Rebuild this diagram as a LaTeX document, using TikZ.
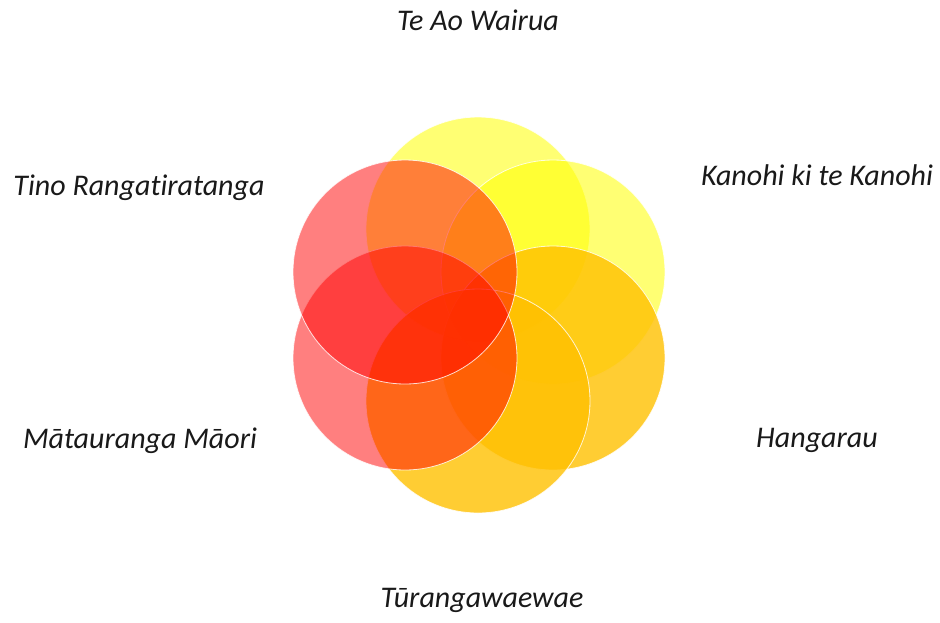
\documentclass[tikz,border=0pt]{standalone}
\usepackage{fontspec}
\setmainfont{Carlito}[Ligatures=NoCommon]
\begin{document}
\begin{tikzpicture}[x=1pt,y=-1pt,
  petal/.style={circle, inner sep=0pt, minimum size=224pt, draw=white, line width=0.8pt, draw opacity=0.8},
  lbl/.style={anchor=base, font=\fontsize{30}{36}\selectfont\itshape, text=black!90}]
\useasboundingbox (0,0) rectangle (940,622);
\definecolor{ylw}{HTML}{FFFF00}
\definecolor{gold}{HTML}{FFC000}
\definecolor{rd}{HTML}{FF0000}
% centres on a hexagon around (478,315)
\node[petal, fill=ylw, fill opacity=0.55] (top) at (478,229) {};
\node[petal, fill=ylw, fill opacity=0.55] (ur) at (553,272) {};
\node[petal, fill=gold, fill opacity=0.8] (lr) at (553,358) {};
\node[petal, fill=gold, fill opacity=0.8] (bot) at (478,401) {};
\node[petal, fill=rd, fill opacity=0.5] (ll) at (405,358) {};
\node[petal, fill=rd, fill opacity=0.5] (ul) at (405,272) {};
% labels
\node[lbl] (tTop) at (478,30) {Te Ao Wairua};
\node[lbl] (tUL) at (139,195) {Tino Rangatiratanga};
\node[lbl] (tUR) at (817,185) {Kanohi ki te Kanohi};
\node[lbl] (tLL) at (140,448) {Mātauranga Māori};
\node[lbl] (tLR) at (817,447) {Hangarau};
\node[lbl] (tBot) at (482,607) {Tūrangawaewae};
\end{tikzpicture}
\end{document}
